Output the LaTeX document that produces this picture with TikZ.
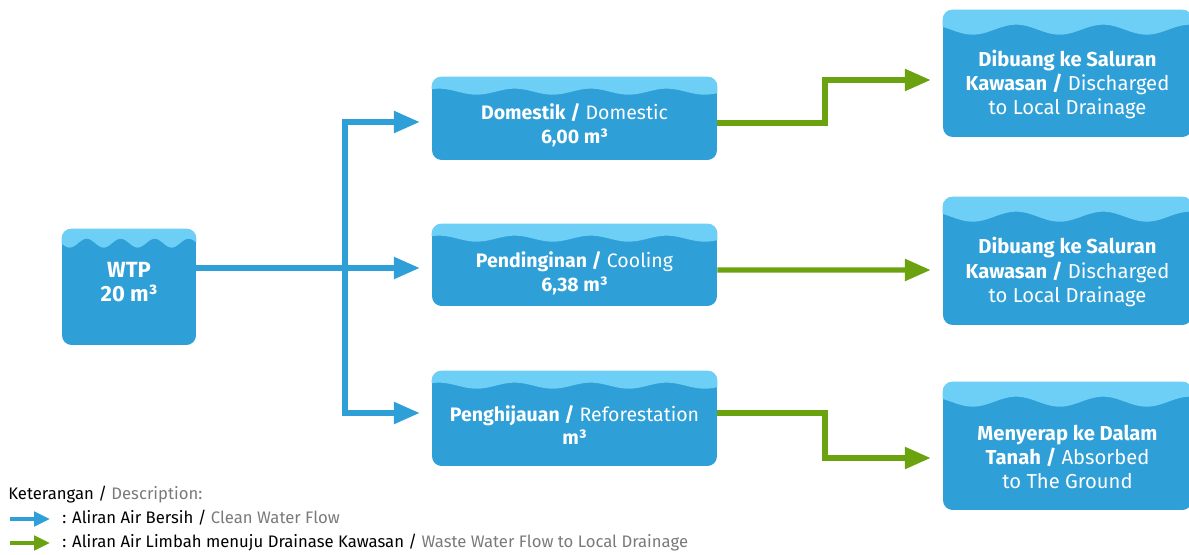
\documentclass[tikz,border=0pt]{standalone}
\usepackage{fontspec}
\setmainfont{Fira Sans}
\usetikzlibrary{arrows.meta}

\definecolor{boxblue}{HTML}{2E9FD7}
\definecolor{capblue}{HTML}{6DCFF6}
\definecolor{flowblue}{HTML}{2E9FD7}
\definecolor{flowgreen}{HTML}{6AA30F}
\definecolor{keygrey}{HTML}{7A7A7A}

\tikzset{
  tank/.style={draw=none, fill=boxblue, rounded corners=5.5pt, inner sep=0pt},
  boxtext/.style={text=white, align=center, inner sep=0pt},
  midfont/.style={font=\fontsize{11.1}{13.6}\selectfont},
  rightfont/.style={font=\fontsize{11.5}{13.9}\selectfont},
  flow/.style={line width=2.9pt, -{Triangle[length=14.7pt, width=12pt]}, shorten >=6.8pt},
  blueflow/.style={flow, draw=flowblue},
  greenflow/.style={flow, draw=flowgreen},
  keyarrow/.style={line width=2.3pt, -{Triangle[length=9pt, width=8pt]}},
  keytext/.style={anchor=base west, inner sep=0pt, font=\fontsize{9.5}{11}\selectfont},
}

% light wavy water surface on top of a tank node
% #1 node, #2 mean depth, #3 wave period, #4 amplitude, #5 phase (px units)
\newcommand\tankcap[5]{%
  \begin{scope}
    \clip[rounded corners=5.5pt] (#1.south west) rectangle (#1.north east);
    \begin{scope}[shift={(#1.north west)}]
      \fill[capblue] (0,-5) -- plot[domain=0:300, samples=120]
        (\x, {#2 + #4*cos(360/#3*(\x-#5))}) -- (300,-5) -- cycle;
    \end{scope}
  \end{scope}}

\begin{document}
\begin{tikzpicture}[x=0.02cm, y=-0.02cm]
\useasboundingbox (0,0) rectangle (1189,554);

% source tank
\node[tank, minimum width=2.68cm, minimum height=2.32cm] (wtp) at (129,287) {};
\tankcap{wtp}{14.5}{34}{4.5}{8}
\node[boxtext, font=\fontsize{12.5}{13.6}\selectfont\bfseries] (wtptext) at (129,282) {WTP\\20 m³};

% usage tanks
\node[tank, minimum width=5.7cm, minimum height=1.66cm] (dom) at (574.5,118.5) {};
\tankcap{dom}{15}{76}{3}{45}
\node[boxtext, midfont] (domtext) at (574.5,125) {{\bfseries Domestik /} Domestic\\{\bfseries 6,00 m³}};

\node[tank, minimum width=5.7cm, minimum height=1.64cm] (pend) at (574.5,265) {};
\tankcap{pend}{15}{76}{3}{45}
\node[boxtext, midfont] (pendtext) at (574.5,273) {{\bfseries Pendinginan /} Cooling\\{\bfseries 6,38 m³}};

\node[tank, minimum width=5.7cm, minimum height=1.9cm] (peng) at (574.5,418.5) {};
\tankcap{peng}{15}{76}{3}{45}
\node[boxtext, midfont] (pengtext) at (574.5,425) {{\bfseries Penghijauan /} Reforestation\\{\bfseries m³}};

% destination tanks
\node[tank, minimum width=4.98cm, minimum height=2.54cm] (dest1) at (1067.5,73.5) {};
\tankcap{dest1}{20}{87}{5}{30}
\node[boxtext, rightfont] (dest1text) at (1067.5,84.5) {{\bfseries Dibuang ke Saluran}\\{\bfseries Kawasan /} Discharged\\to Local Drainage};

\node[tank, minimum width=4.98cm, minimum height=2.56cm] (dest2) at (1067.5,261) {};
\tankcap{dest2}{20}{87}{5}{30}
\node[boxtext, rightfont] (dest2text) at (1067.5,272) {{\bfseries Dibuang ke Saluran}\\{\bfseries Kawasan /} Discharged\\to Local Drainage};

\node[tank, minimum width=4.98cm, minimum height=2.56cm] (dest3) at (1067.5,446) {};
\tankcap{dest3}{20}{87}{5}{30}
\node[boxtext, rightfont] (dest3text) at (1067.5,457) {{\bfseries Menyerap ke Dalam}\\{\bfseries Tanah /} Absorbed\\to The Ground};

% ports where the flow lines leave and enter the tanks
\coordinate (split) at (345,268);
\coordinate (bend) at (825,0);
\coordinate (domin)   at ([yshift=-0.07cm]dom.west);
\coordinate (pengin)  at ([yshift=0.11cm]peng.west);
\coordinate (domout)  at ([yshift=-0.09cm]dom.east);
\coordinate (pendout) at ([yshift=-0.1cm]pend.east);
\coordinate (pengout) at ([yshift=0.11cm]peng.east);
\coordinate (in1) at ([yshift=-0.13cm]dest1.west);
\coordinate (in2) at ([yshift=-0.18cm]dest2.west);
\coordinate (in3) at ([yshift=-0.24cm]dest3.west);

% clean water distribution
\draw[blueflow] (wtp.east |- split) -- (pend.west |- split);
\draw[blueflow] (split) |- (domin);
\draw[blueflow] (split) |- (pengin);

% waste water discharge
\draw[greenflow] (domout) -| (bend |- in1) -- (in1);
\draw[greenflow] (pendout) -- (in2);
\draw[greenflow] (pengout) -| (bend |- in3) -- (in3);

% legend
\node[keytext] (keyhead) at (8,499) {Keterangan / \textcolor{keygrey}{Description:}};
\coordinate (kb1) at (10,519);
\coordinate (kb2) at (50,519);
\coordinate (kg1) at (10,543);
\coordinate (kg2) at (50,543);
\draw[keyarrow, draw=flowblue, fill=flowblue] (kb1) -- (kb2);
\draw[keyarrow, draw=flowgreen, fill=flowgreen] (kg1) -- (kg2);
\node[keytext] (keyblue) at (62,523) {: Aliran Air Bersih / \textcolor{keygrey}{Clean Water Flow}};
\node[keytext] (keygreen) at (62,547) {: Aliran Air Limbah menuju Drainase Kawasan / \textcolor{keygrey}{Waste Water Flow to Local Drainage}};
\end{tikzpicture}
\end{document}
